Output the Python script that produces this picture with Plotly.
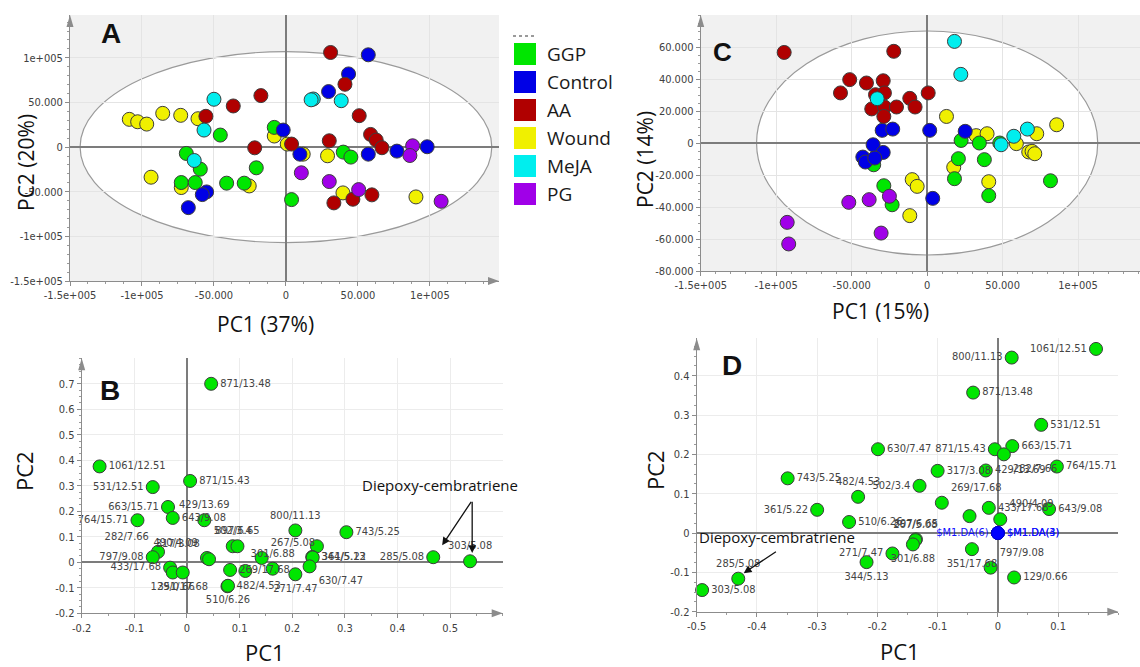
import plotly.graph_objects as go

W, H = 1140, 667

# ---------------- Panel A data (PC1, PC2 scores) ----------------
A_GGP_x = [-8100, -45600, -69200, -59500, -20600, -72700, -63000, -41200, -29000, 3900, 39800, 45100]
A_GGP_y = [22100, 13500, -7100, -24700, -23200, -39700, -39700, -40400, -40400, -58800, -5600, -11200]
A_Control_x = [-1900, -55100, -58100, -67800, 57200, 43500, 29600, 77100, 98100, 9700, 57200]
A_Control_y = [19100, -50200, -53200, -67800, 103400, 82000, 62200, -4500, 400, -7900, -7900]
A_AA_x = [-36600, -55600, -17400, -21700, 31000, 41000, 50900, 30100, 58800, 62700, 66700, 3900, 33300, 46500, 59700]
A_AA_y = [46100, 34500, 57700, -800, 106000, 70400, 35200, 7100, 14200, 7900, -700, 3400, -62500, -58400, -53500]
A_Wound_x = [-108800, -103000, -96700, -85600, -73100, -61100, -8100, -93700, -72700, -25500, 900, 12000, 28900, 39600, 90300]
A_Wound_y = [31100, 28400, 25800, 37800, 35600, 31800, 12400, -33700, -45300, -43500, 3400, -7900, -9700, -51300, -55800]
A_MeJA_x = [-50000, -56900, -63700, 19000, 17500, 38400]
A_MeJA_y = [53600, 19100, -15000, 53900, 53000, 52000]
A_PG_x = [88000, 86100, 10700, 30100, 50500, 107800]
A_PG_y = [1500, -9400, -28800, -38600, -47600, -60700]
A_ellipse = [143000, 107000]

# ---------------- Panel C data ----------------
C_GGP_x = [-35400, -28700, -23200, 22500, 34600, 48100, 20700, 37900, 18100, 40800, 81700]
C_GGP_y = [-13600, -26700, -38600, 1600, 0, 0, -9800, -10400, -22300, -32900, -23600]
C_Control_x = [-29800, -35800, -29100, -42600, -40900, -34700, -22800, 1700, 25200, 3700]
C_Control_y = [7900, -1100, -5900, -8800, -11900, -9400, 8700, 7900, 7300, -34600]
C_AA_x = [-94700, -51300, -57400, -40200, -29100, -34200, -28300, -36700, -28300, -28700, -22100, 700, -11500, -8000, -20300]
C_AA_y = [56600, 39600, 31300, 37500, 38900, 30200, 31300, 21300, 22500, 16600, 57300, 31300, 27900, 22500, 22500]
C_Wound_x = [12800, 32500, 39700, 59100, 72600, 85800, 67300, 69500, 71300, 17600, -9900, -6600, 40800, -11500]
C_Wound_y = [16600, 4600, 5800, -400, 5800, 11400, -5600, -5200, -6700, -15200, -22900, -27100, -24200, -45400]
C_MeJA_x = [-33100, 18100, 22300, 49000, 57400, 66400]
C_MeJA_y = [27700, 63500, 42900, -1100, 4200, 8700]
C_PG_x = [-51900, -38400, -25000, -92700, -91700, -30500]
C_PG_y = [-37100, -35400, -33300, -49600, -63100, -56300]
C_ellipse = [113000, 70000]

groups = ["GGP", "Control", "AA", "Wound", "MeJA", "PG"]

# ---------------- Panel B loadings ----------------
B_x = [0.046, -0.166, 0.006, -0.065, -0.036, -0.027, -0.094, 0.033, -0.055, -0.065,
       -0.032, -0.027, -0.008, 0.038, 0.042, 0.087, 0.096, 0.082, 0.111, 0.077,
       0.078, 0.142, 0.163, 0.206, 0.303, 0.247, 0.238, 0.239, 0.233, 0.206,
       0.468, 0.538]
B_y = [0.70, 0.376, 0.319, 0.295, 0.217, 0.174, 0.165, 0.165, 0.041, 0.020,
       -0.021, -0.040, -0.040, 0.017, 0.012, 0.063, 0.063, -0.030, -0.034, -0.094,
       -0.092, 0.017, -0.025, 0.125, 0.118, 0.063, 0.021, 0.019, -0.016, -0.047,
       0.020, 0.004]
B_labels = ["871/13.48", "1061/12.51", "871/15.43", "531/12.51", "663/15.71", "643/9.08", "764/15.71", "429/13.69", "282/7.66", "797/9.08",
            "433/17.68", "129/0.66", "351/17.68", "490/4.09", "317/3.08", "502/3.4", "897/6.65", "269/17.68", "", "482/4.53",
            "510/6.26", "267/5.08", "301/6.88", "800/11.13", "743/5.25", "", "344/5.13", "361/5.22", "630/7.47", "271/7.47",
            "285/5.08", "303/5.08"]

# ---------------- Panel D loadings ----------------
D_x = [0.163, 0.023, -0.041, 0.072, -0.005, 0.024, 0.010, -0.020, -0.100, -0.130,
       0.098, -0.093, -0.015, 0.085, 0.004, -0.047, -0.043, -0.012, 0.027, -0.136,
       -0.137, -0.141, -0.175, -0.218, -0.199, -0.349, -0.300, -0.232, -0.247, -0.431,
       -0.491]
D_y = [0.468, 0.446, 0.357, 0.275, 0.213, 0.221, 0.200, 0.159, 0.158, 0.120,
       0.169, 0.077, 0.064, 0.061, 0.035, 0.043, -0.041, -0.088, -0.113, -0.016,
       -0.018, -0.029, -0.052, -0.074, 0.213, 0.139, 0.059, 0.092, 0.028, -0.116,
       -0.145]
D_labels = ["1061/12.51", "800/11.13", "871/13.48", "531/12.51", "871/15.43", "663/15.71", "282/7.66", "429/13.69", "317/3.08", "502/3.4",
            "764/15.71", "269/17.68", "433/17.68", "643/9.08", "490/4.09", "", "351/17.68", "797/9.08", "129/0.66", "897/6.65",
            "267/5.08", "301/6.88", "271/7.47", "344/5.13", "630/7.47", "743/5.25", "361/5.22", "482/4.53", "510/6.26", "285/5.08",
            "303/5.08"]
D_da_x = [0.0, 0.0, 0.0]
D_da_y = [0.0, 0.0, 0.0]
D_da_labels = ["$M1.DA(6)", "$M1.DA(3)", "$M1.DA(4)"]

# ---------------- styles ----------------
COLORS = {"GGP": "#00e600", "Control": "#0000e6", "AA": "#b00000",
          "Wound": "#f0f000", "MeJA": "#00eeee", "PG": "#a000e8"}
B_label_pos = ["middle right", "middle right", "middle right", "middle left", "middle left", "middle right", "middle left", "top center", "top left", "middle left",
               "middle left", "bottom center", "bottom center", "top left", "top left", "top center", "top center", "middle right", "middle right", "middle right",
               "bottom center", "top right", "top center", "top center", "middle right", "middle right", "middle right", "middle right", "bottom right", "bottom center",
               "middle left", "top center"]
D_label_pos = ["middle left", "middle left", "middle right", "middle right", "middle left", "middle right", "bottom right", "middle right", "middle right", "middle left",
               "middle right", "top right", "middle right", "middle right", "top right", "middle right", "bottom center", "top right", "middle right", "top center",
               "top center", "bottom center", "middle left", "bottom center", "middle right", "middle right", "middle left", "top center", "middle right", "top center",
               "middle right"]
D_da_pos = ["middle left", "middle right", "middle right"]

NARROW = "Liberation Sans Narrow, Arial Narrow, DejaVu Sans Condensed, Liberation Sans, sans-serif"
SANS = "Open Sans, Noto Sans, sans-serif"
BOLD = "Liberation Sans, Arial, sans-serif"


def xd(px0, px1):
    return [px0 / W, min(px1 / W, 1.0)]


def yd(py_bottom, py_top):
    return [1 - py_bottom / H, 1 - py_top / H]


DOM = {
    "A": (xd(70, 499), yd(281, 15)),
    "C": (xd(700.7, 1140), yd(271, 15)),
    "B": (xd(81.7, 502.7), yd(613.3, 358.3)),
    "D": (xd(696.7, 1118.3), yd(611.7, 338.3)),
}

fig = go.Figure()

marker_line = dict(color="#3c3c3c", width=1)

# Score plots
order = ["Wound", "GGP", "Control", "AA", "MeJA", "PG"]
A_data = {"GGP": (A_GGP_x, A_GGP_y), "Control": (A_Control_x, A_Control_y), "AA": (A_AA_x, A_AA_y),
          "Wound": (A_Wound_x, A_Wound_y), "MeJA": (A_MeJA_x, A_MeJA_y), "PG": (A_PG_x, A_PG_y)}
C_data = {"GGP": (C_GGP_x, C_GGP_y), "Control": (C_Control_x, C_Control_y), "AA": (C_AA_x, C_AA_y),
          "Wound": (C_Wound_x, C_Wound_y), "MeJA": (C_MeJA_x, C_MeJA_y), "PG": (C_PG_x, C_PG_y)}
for g in order:
    x, y = A_data[g]
    fig.add_trace(go.Scatter(x=x, y=y, mode="markers", name=g, showlegend=False,
                             marker=dict(size=14, color=COLORS[g], line=marker_line),
                             xaxis="x", yaxis="y", hoverinfo="skip"))
for g in order:
    x, y = C_data[g]
    fig.add_trace(go.Scatter(x=x, y=y, mode="markers", name=g, showlegend=False,
                             marker=dict(size=14, color=COLORS[g], line=marker_line),
                             xaxis="x2", yaxis="y2", hoverinfo="skip"))

# Loading plots
fig.add_trace(go.Scatter(x=B_x, y=B_y, mode="markers+text", text=B_labels, textposition=B_label_pos,
                         textfont=dict(size=11, color="#444444", family=NARROW), showlegend=False,
                         marker=dict(size=13, color=COLORS["GGP"], line=marker_line),
                         xaxis="x3", yaxis="y3", hoverinfo="skip", cliponaxis=False))
fig.add_trace(go.Scatter(x=D_x, y=D_y, mode="markers+text", text=D_labels, textposition=D_label_pos,
                         textfont=dict(size=11, color="#444444", family=NARROW), showlegend=False,
                         marker=dict(size=13, color=COLORS["GGP"], line=marker_line),
                         xaxis="x4", yaxis="y4", hoverinfo="skip", cliponaxis=False))
fig.add_trace(go.Scatter(x=D_da_x, y=D_da_y, mode="markers+text", text=D_da_labels, textposition=D_da_pos,
                         textfont=dict(size=11, color="#1010ff", family=NARROW), showlegend=False,
                         marker=dict(size=13, color="#0000ff", line=dict(color="#0000cc", width=1)),
                         xaxis="x4", yaxis="y4", hoverinfo="skip", cliponaxis=False))


def axis(domain, rng, tickvals, ticktext, anchor, minor_dtick, grid="#e4e4e4"):
    return dict(domain=domain, range=rng, tickvals=tickvals, ticktext=ticktext, anchor=anchor,
                showline=True, linecolor="#8c8c8c", linewidth=1,
                ticks="outside", ticklen=4, tickcolor="#8c8c8c",
                tickfont=dict(size=11, color="#404040", family=NARROW),
                showgrid=True, gridcolor=grid, gridwidth=1,
                zeroline=True, zerolinecolor="#7c7c7c", zerolinewidth=1.5,
                minor=dict(ticks="outside", ticklen=2, tickcolor="#9a9a9a", dtick=minor_dtick, tick0=0, showgrid=False),
                automargin=False, fixedrange=True)


A_xt = [-150000, -100000, -50000, 0, 50000, 100000]
A_xtt = ["-1.5e+005", "-1e+005", "-50.000", "0", "50.000", "1e+005"]
A_yt = [-150000, -100000, -50000, 0, 50000, 100000]
A_ytt = ["-1.5e+005", "-1e+005", "-50.000", "0", "50.000", "1e+005"]
C_yt = [-80000, -60000, -40000, -20000, 0, 20000, 40000, 60000]
C_ytt = ["-80.000", "-60.000", "-40.000", "-20.000", "0", "20.000", "40.000", "60.000"]
B_xt = [-0.2, -0.1, 0, 0.1, 0.2, 0.3, 0.4, 0.5]
B_yt = [-0.2, -0.1, 0, 0.1, 0.2, 0.3, 0.4, 0.5, 0.6, 0.7]
D_xt = [-0.5, -0.4, -0.3, -0.2, -0.1, 0, 0.1]
D_yt = [-0.2, -0.1, 0, 0.1, 0.2, 0.3, 0.4]


def fmt(v):
    return "0" if v == 0 else ("%g" % v)


fig.update_layout(
    width=W, height=H, margin=dict(l=0, r=0, t=0, b=0, pad=0, autoexpand=False),
    paper_bgcolor="white", plot_bgcolor="white", showlegend=False,
    xaxis=axis(DOM["A"][0], [-150000, 148000], A_xt, A_xtt, "y", 12500),
    yaxis=axis(DOM["A"][1], [-150000, 148000], A_yt, A_ytt, "x", 10000),
    xaxis2=axis(DOM["C"][0], [-150000, 141000], A_xt, A_xtt, "y2", 10000),
    yaxis2=axis(DOM["C"][1], [-80000, 80000], C_yt, C_ytt, "x2", 5000),
    xaxis3=axis(DOM["B"][0], [-0.2, 0.6], B_xt, [fmt(v) for v in B_xt], "y3", 0.05, "#ececec"),
    yaxis3=axis(DOM["B"][1], [-0.2, 0.8], B_yt, [fmt(v) for v in B_yt], "x3", 0.025, "#ececec"),
    xaxis4=axis(DOM["D"][0], [-0.5, 0.2], D_xt, [fmt(v) for v in D_xt], "y4", 0.05, "#ececec"),
    yaxis4=axis(DOM["D"][1], [-0.2, 0.495], D_yt, [fmt(v) for v in D_yt], "x4", 0.025, "#ececec"),
)

shapes = []
# gray backgrounds + white confidence ellipses for the score plots
for xr, yr, ell in (("x", "y", A_ellipse), ("x2", "y2", C_ellipse)):
    shapes.append(dict(type="rect", xref=xr + " domain", yref=yr + " domain", x0=0, x1=1, y0=0, y1=1,
                       fillcolor="#f1f1f1", line=dict(width=0), layer="below"))
    shapes.append(dict(type="circle", xref=xr, yref=yr, x0=-ell[0], x1=ell[0], y0=-ell[1], y1=ell[1],
                       fillcolor="white", line=dict(color="#9a9a9a", width=1.2), layer="below"))

# axis arrows
for key in ("A", "C", "B", "D"):
    (x0, x1), (y0, y1) = DOM[key]
    if key != "C":
        tip = (x1, y0)
        shapes.append(dict(type="path", xref="paper", yref="paper", fillcolor="#8c8c8c", line=dict(width=0),
                           path="M %f,%f L %f,%f L %f,%f Z" % (tip[0], tip[1], tip[0] - 11 / W, tip[1] + 4 / H,
                                                                 tip[0] - 11 / W, tip[1] - 4 / H)))
    tip = (x0, y1)
    shapes.append(dict(type="path", xref="paper", yref="paper", fillcolor="#8c8c8c", line=dict(width=0),
                       path="M %f,%f L %f,%f L %f,%f Z" % (tip[0], tip[1], tip[0] - 3.5 / W, tip[1] - 12 / H,
                                                             tip[0] + 3.5 / W, tip[1] - 12 / H)))

# legend swatches
legend_rows = [54, 82, 110, 138, 166, 194]
shapes.append(dict(type="line", xref="paper", yref="paper", x0=513 / W, x1=536 / W, y0=1 - 36 / H, y1=1 - 36 / H,
                   line=dict(color="#9a9a9a", width=2, dash="dot")))
annotations = []
for g, cy in zip(groups, legend_rows):
    shapes.append(dict(type="rect", xref="paper", yref="paper", x0=514 / W, x1=536 / W,
                       y0=1 - (cy + 11) / H, y1=1 - (cy - 11) / H, fillcolor=COLORS[g], line=dict(width=0)))
    annotations.append(dict(text=g, xref="paper", yref="paper", x=545 / W, y=1 - cy / H, xanchor="left",
                            yanchor="middle", showarrow=False, font=dict(size=19, family=SANS, color="#1a1a1a")))


def ann(text, px, py, size, family=SANS, angle=0, bold=False, color="#111111"):
    t = "<b>%s</b>" % text if bold else text
    annotations.append(dict(text=t, xref="paper", yref="paper", x=px / W, y=1 - py / H, xanchor="center",
                            yanchor="middle", showarrow=False, textangle=angle,
                            font=dict(size=size, family=family, color=color)))


# panel letters
ann("A", 111, 33, 28, BOLD, bold=True)
ann("B", 110, 390, 28, BOLD, bold=True)
ann("C", 722, 52, 26, BOLD, bold=True)
ann("D", 732, 365, 28, BOLD, bold=True)
# axis titles
ann("PC1 (37%)", 265, 324, 21)
ann("PC2 (20%)", 26, 163, 21, angle=-90)
ann("PC1 (15%)", 880, 311, 21)
ann("PC2 (14%)", 645, 160, 21, angle=-90)
ann("PC2", 24, 471, 22, angle=-90)
ann("PC1", 265, 652, 22)
ann("PC2", 655, 470, 22, angle=-90)
ann("PC1", 900, 651, 22)

# Diepoxy-cembratriene callouts
annotations.append(dict(text="Diepoxy-cembratriene", x=0.481, y=0.302, xref="x3", yref="y3", showarrow=False,
                        font=dict(size=15, family=SANS, color="#111111")))
for tx, ty in ((0.485, 0.067), (0.542, 0.036)):
    annotations.append(dict(text="", x=tx, y=ty, ax=0.542, ay=0.243, xref="x3", yref="y3", axref="x3", ayref="y3",
                            showarrow=True, arrowhead=2, arrowsize=1.2, arrowwidth=1.3, arrowcolor="#111111"))
annotations.append(dict(text="Diepoxy-cembratriene", x=-0.367, y=-0.011, xref="x4", yref="y4", showarrow=False,
                        font=dict(size=15, family=SANS, color="#111111")))
annotations.append(dict(text="", x=-0.422, y=-0.102, ax=-0.366, ay=-0.045, xref="x4", yref="y4", axref="x4",
                        ayref="y4", showarrow=True, arrowhead=2, arrowsize=1.2, arrowwidth=1.3, arrowcolor="#111111"))

fig.update_layout(shapes=shapes, annotations=annotations)
fig.write_html("out.html")
